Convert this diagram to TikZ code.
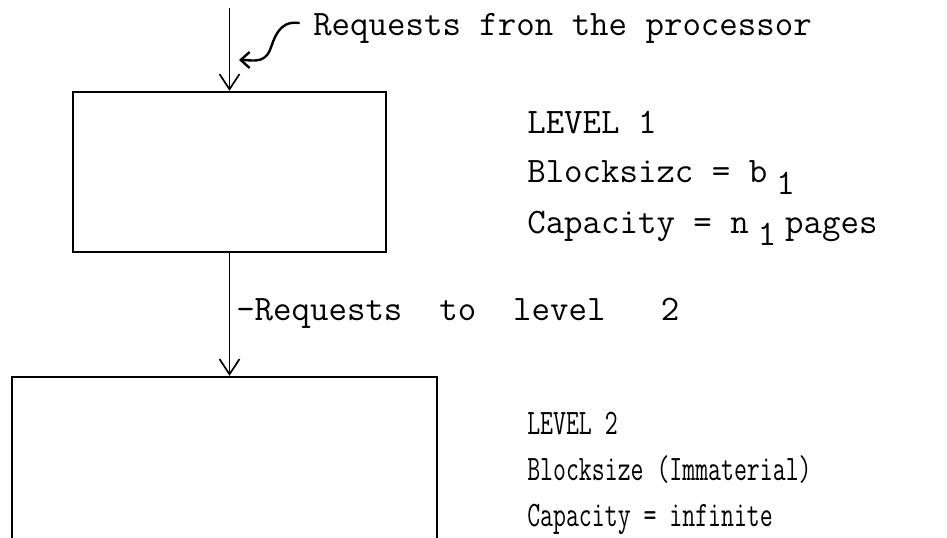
\documentclass[tikz,border=0pt]{standalone}
\usepackage{fontspec}
\usepackage{tikz}
\usetikzlibrary{positioning,arrows.meta}
\tikzset{
    block/.style = {
        draw,
        shape=rectangle,
        inner sep=0pt,
        line width=1.7pt
    },
    note/.style = {
        inner sep=0pt,
        anchor=base west,
        font=\fontsize{25.5}{30}\selectfont\ttfamily
    },
    flow/.style = {
        line width=1.2pt
    },
    curl/.style = {
        line width=1.7pt,
        line cap=round,
        -{Straight Barb[length=0.22cm,width=0.4cm]}
    },
    >={Straight Barb[length=0.38cm,width=0.5cm]},
}
\newcommand{\lowsub}[1]{\hspace{0.25em}\raisebox{-9pt}{#1}\hspace{0.25em}}
\newcommand{\narrow}[1]{\scalebox{0.7}[1]{#1}}

\begin{document}
\begin{tikzpicture}
                \useasboundingbox (0,0) rectangle (23.675,-13.425);
                \clip (0,0) rectangle (23.675,-13.425);

                \node[block, minimum width=7.825cm, minimum height=4cm] (lvl1) at (5.7375,-4.3) {};
                \node[block, minimum width=10.625cm, minimum height=6.075cm] (lvl2) at (5.6125,-12.4625) {};

                \node[note] (reqproc) at (7.825,-0.9) {Requests fron the processor};
                \node[note] (lvl1name) at (13.175,-3.325) {LEVEL 1};
                \node[note] (lvl1block) at (13.175,-4.55) {Blocksizc = b\lowsub{1}};
                \node[note] (lvl1cap) at (13.175,-5.825) {Capacity = n\lowsub{1}pages};
                \node[note] (reqlvl2) at (5.9,-8.0) {-Requests\ \ to\ \ level\ \ \ 2};
                \node[note] (lvl2name) at (13.175,-10.85) {\narrow{LEVEL 2}};
                \node[note] (lvl2block) at (13.175,-12.0) {\narrow{Blocksize (Immaterial)}};
                \node[note] (lvl2cap) at (13.175,-13.15) {\narrow{Capacity = infinite}};

                \coordinate (entry) at (5.7375,-0.2);
                \coordinate (curltail) at (7.475,-0.575);
                \coordinate (curlhead) at (5.975,-1.5);

                \path[draw, flow, ->] (entry) -- (lvl1);
                \path[draw, flow, ->] (lvl1) -- (lvl1 |- lvl2.north);
                \path[draw, curl] (curltail) .. controls (6.95,-0.5) and (6.85,-1.0) .. (6.75,-1.25)
                    .. controls (6.6,-1.6) and (6.3,-1.5) .. (curlhead);
            \end{tikzpicture}
\end{document}
